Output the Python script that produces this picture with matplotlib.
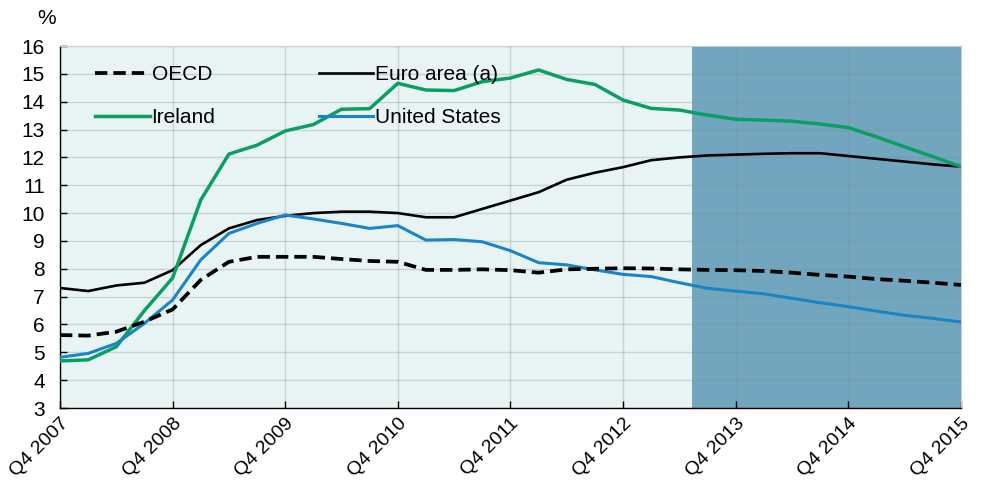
import matplotlib.pyplot as plt
import numpy as np

plt.rcParams['font.family'] = ['Liberation Sans Narrow', 'Liberation Sans', 'DejaVu Sans']

years = list(range(2007, 2016))
tick_labels = [f"Q4 {y}" for y in years]

# quarterly unemployment rates, Q4 2007 .. Q4 2015
oecd = [5.62, 5.6, 5.74, 6.1, 6.54, 7.6, 8.25, 8.43, 8.43, 8.43, 8.35, 8.28, 8.25,
        7.96, 7.96, 7.98, 7.95, 7.86, 7.98, 8.0, 8.02, 8.01, 7.98, 7.96, 7.95,
        7.92, 7.86, 7.78, 7.72, 7.63, 7.57, 7.5, 7.42]
euro = [7.31, 7.2, 7.4, 7.5, 7.95, 8.85, 9.45, 9.75, 9.9, 10.0, 10.05, 10.05, 10.0,
        9.85, 9.85, 10.15, 10.45, 10.75, 11.2, 11.45, 11.65, 11.9, 12.0, 12.07, 12.1,
        12.13, 12.15, 12.15, 12.05, 11.95, 11.85, 11.75, 11.67]
ireland = [4.69, 4.73, 5.2, 6.5, 7.67, 10.47, 12.12, 12.44, 12.95, 13.18, 13.73, 13.75, 14.66,
           14.42, 14.4, 14.72, 14.85, 15.14, 14.8, 14.62, 14.06, 13.76, 13.7, 13.52, 13.37,
           13.34, 13.3, 13.2, 13.07, 12.74, 12.38, 12.03, 11.67]
us = [4.82, 4.96, 5.32, 6.04, 6.88, 8.32, 9.27, 9.63, 9.93, 9.79, 9.63, 9.45, 9.55,
      9.03, 9.05, 8.97, 8.65, 8.22, 8.14, 7.96, 7.8, 7.72, 7.5, 7.3, 7.2,
      7.1, 6.94, 6.78, 6.64, 6.48, 6.33, 6.22, 6.09]
projection_start = 22.46  # in quarters from Q4 2007

x = np.arange(len(oecd))

fig = plt.figure(figsize=(9.9, 4.87), dpi=100)
ax = fig.add_axes([0.0606, 0.1622, 0.91, 0.7433])
ax.set_facecolor('#e8f4f4')

ax.axvspan(projection_start, x[-1], color='#72a6bf', zorder=0.5, lw=0)

ax.plot(x, euro, color='black', lw=1.9, zorder=3, label='Euro area (a)')
ax.plot(x, ireland, color='#0a9e62', lw=2.5, zorder=3, label='Ireland')
ax.plot(x, us, color='#1a84c6', lw=2.2, zorder=3, label='United States')
ax.plot(x, oecd, color='black', lw=2.7, ls=(0, (3.3, 1.6)), zorder=4, label='OECD')

ax.set_xlim(0, x[-1])
ax.set_ylim(3, 16)
ax.set_yticks(range(3, 17))
ax.set_xticks(np.arange(0, len(x), 4))
ax.set_xticklabels(tick_labels, rotation=45, ha='right', rotation_mode='anchor')

ax.grid(True, color='#7f8a8c', alpha=0.3, lw=1.0, zorder=1)
ax.set_axisbelow(True)

for s in ['top', 'right']:
    ax.spines[s].set_color('#cccccc')
    ax.spines[s].set_linewidth(0.8)
for s in ['left', 'bottom']:
    ax.spines[s].set_color('black')
    ax.spines[s].set_linewidth(1.0)

ax.tick_params(axis='both', direction='in', length=5, width=1, colors='black')
ax.tick_params(axis='y', pad=11, labelsize=15)
ax.tick_params(axis='x', pad=5, labelsize=14)

ax.text(-0.015, 1.075, '%', transform=ax.transAxes, fontsize=15, ha='center', va='center')

handles, labels = ax.get_legend_handles_labels()
order = [3, 1, 0, 2]
leg = ax.legend([handles[i] for i in order], [labels[i] for i in order],
                ncol=2, loc='upper left', bbox_to_anchor=(0.030, 0.97),
                frameon=False, fontsize=15, handlelength=2.6, handletextpad=0.1,
                columnspacing=4.95, labelspacing=1.15, borderaxespad=0)

fig.savefig('out.png', dpi=100)
